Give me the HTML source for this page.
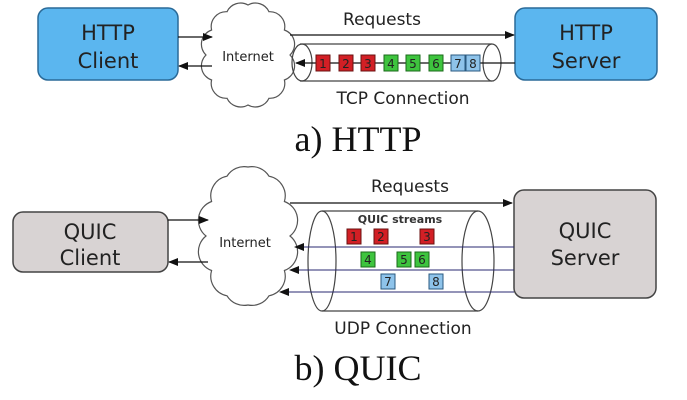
<!DOCTYPE html>
<html><head><style>
html,body{margin:0;padding:0;background:#fff;}
svg{display:block;}
.s{font-family:"DejaVu Sans","Liberation Sans",sans-serif;}
</style></head><body>
<svg width="687" height="400" viewBox="0 0 687 400" xmlns="http://www.w3.org/2000/svg">
<defs>
<marker id="a" markerWidth="10" markerHeight="8" refX="9" refY="4" orient="auto" markerUnits="userSpaceOnUse"><path d="M0,0 L10,4 L0,8 z" fill="#111"/></marker>
</defs>
<rect width="687" height="400" fill="#fff"/>
<!-- TOP -->
<rect x="38" y="8" width="140" height="72" rx="10" fill="#5bb6ef" stroke="#2a6a98" stroke-width="1.5"/>
<text x="108" y="40" class="s" font-size="21" text-anchor="middle" fill="#222">HTTP</text>
<text x="108" y="68" class="s" font-size="21" text-anchor="middle" fill="#222">Client</text>
<rect x="515" y="8" width="142" height="72" rx="10" fill="#5bb6ef" stroke="#2a6a98" stroke-width="1.5"/>
<text x="586" y="40" class="s" font-size="21" text-anchor="middle" fill="#222">HTTP</text>
<text x="586" y="68" class="s" font-size="21" text-anchor="middle" fill="#222">Server</text>
<path d="M290,55 A15,15 0 0 1 284.4,80 A15,15 0 0 1 269,98.3 A15,15 0 0 1 248,105 A15,15 0 0 1 227,98.3 A15,15 0 0 1 211.6,80 A15,15 0 0 1 206,55 A15,15 0 0 1 211.6,30 A15,15 0 0 1 227,11.7 A15,15 0 0 1 248,5 A15,15 0 0 1 269,11.7 A15,15 0 0 1 284.4,30 A15,15 0 0 1 290,55 z" fill="#fff" stroke="#555" stroke-width="1.2"/>
<line x1="178" y1="37" x2="212" y2="37" stroke="#111" stroke-width="1.2" marker-end="url(#a)"/>
<line x1="212" y1="66" x2="179" y2="66" stroke="#111" stroke-width="1.2" marker-end="url(#a)"/>
<text x="248" y="61" class="s" font-size="13" text-anchor="middle" fill="#222">Internet</text>
<text x="382" y="25" class="s" font-size="17" text-anchor="middle" fill="#222">Requests</text>
<line x1="290" y1="35" x2="514" y2="35" stroke="#111" stroke-width="1.2" marker-end="url(#a)"/>
<line x1="300" y1="44" x2="492" y2="44" stroke="#444" stroke-width="1.2"/>
<line x1="300" y1="81" x2="492" y2="81" stroke="#444" stroke-width="1.2"/>
<ellipse cx="302" cy="62.5" rx="10" ry="18.5" fill="none" stroke="#444" stroke-width="1.2"/>
<ellipse cx="492" cy="62.5" rx="9" ry="18.5" fill="#fff" stroke="#444" stroke-width="1.2"/>
<line x1="515" y1="63" x2="296" y2="63" stroke="#111" stroke-width="1.2" marker-end="url(#a)"/>
<g class="s" font-size="12" text-anchor="middle" fill="#222" stroke-width="1">
<rect x="316" y="55" width="14" height="16" fill="#d21f25" stroke="#6a1010"/><text x="323" y="68">1</text>
<rect x="339" y="55" width="14" height="16" fill="#d21f25" stroke="#6a1010"/><text x="346" y="68">2</text>
<rect x="361" y="55" width="14" height="16" fill="#d21f25" stroke="#6a1010"/><text x="368" y="68">3</text>
<rect x="384" y="55" width="14" height="16" fill="#3ec43e" stroke="#1a6a1a"/><text x="391" y="68">4</text>
<rect x="406" y="55" width="14" height="16" fill="#3ec43e" stroke="#1a6a1a"/><text x="413" y="68">5</text>
<rect x="429" y="55" width="14" height="16" fill="#3ec43e" stroke="#1a6a1a"/><text x="436" y="68">6</text>
<rect x="451" y="55" width="14" height="16" fill="#8ec3ea" stroke="#2a5a80"/><text x="458" y="68">7</text>
<rect x="466" y="55" width="14" height="16" fill="#8ec3ea" stroke="#2a5a80"/><text x="473" y="68">8</text>
</g>
<text x="403" y="104" class="s" font-size="17" text-anchor="middle" fill="#222">TCP Connection</text>
<text x="358" y="151" font-family="Liberation Serif,serif" font-size="36" text-anchor="middle" fill="#111">a) HTTP</text>
<!-- BOTTOM -->
<rect x="13" y="212" width="155" height="60" rx="10" fill="#d8d3d3" stroke="#444" stroke-width="1.5"/>
<text x="90" y="239" class="s" font-size="21" text-anchor="middle" fill="#222">QUIC</text>
<text x="90" y="265" class="s" font-size="21" text-anchor="middle" fill="#222">Client</text>
<rect x="514" y="190" width="142" height="108" rx="10" fill="#d8d3d3" stroke="#444" stroke-width="1.5"/>
<text x="585" y="238" class="s" font-size="21" text-anchor="middle" fill="#222">QUIC</text>
<text x="585" y="265" class="s" font-size="21" text-anchor="middle" fill="#222">Server</text>
<path d="M290,236 A20,20 0 0 1 284.4,270.5 A20,20 0 0 1 269,295.8 A20,20 0 0 1 248,305 A20,20 0 0 1 227,295.8 A20,20 0 0 1 211.6,270.5 A20,20 0 0 1 206,236 A20,20 0 0 1 211.6,201.5 A20,20 0 0 1 227,176.2 A20,20 0 0 1 248,167 A20,20 0 0 1 269,176.2 A20,20 0 0 1 284.4,201.5 A20,20 0 0 1 290,236 z" fill="#fff" stroke="#555" stroke-width="1.2"/>
<line x1="168" y1="220" x2="208" y2="220" stroke="#111" stroke-width="1.2" marker-end="url(#a)"/>
<line x1="208" y1="262" x2="169" y2="262" stroke="#111" stroke-width="1.2" marker-end="url(#a)"/>
<text x="245" y="247" class="s" font-size="13" text-anchor="middle" fill="#222">Internet</text>
<text x="410" y="192" class="s" font-size="17" text-anchor="middle" fill="#222">Requests</text>
<line x1="290" y1="203" x2="512" y2="203" stroke="#111" stroke-width="1.2" marker-end="url(#a)"/>
<line x1="322" y1="211" x2="478" y2="211" stroke="#444" stroke-width="1.2"/>
<line x1="322" y1="311" x2="478" y2="311" stroke="#444" stroke-width="1.2"/>
<ellipse cx="322" cy="261" rx="14" ry="50" fill="none" stroke="#444" stroke-width="1.2"/>
<ellipse cx="478" cy="261" rx="16" ry="50" fill="none" stroke="#444" stroke-width="1.2"/>
<text x="400" y="223" class="s" font-size="11" font-weight="bold" text-anchor="middle" fill="#333">QUIC streams</text>
<line x1="514" y1="247" x2="295" y2="247" stroke="#2a2a70" stroke-width="1" marker-end="url(#a)"/>
<line x1="514" y1="270" x2="290" y2="270" stroke="#2a2a70" stroke-width="1" marker-end="url(#a)"/>
<line x1="514" y1="292" x2="280" y2="292" stroke="#2a2a70" stroke-width="1" marker-end="url(#a)"/>
<g class="s" font-size="12" text-anchor="middle" fill="#222" stroke-width="1">
<rect x="347" y="229" width="14" height="15" fill="#d21f25" stroke="#6a1010"/><text x="354" y="241">1</text>
<rect x="374" y="229" width="14" height="15" fill="#d21f25" stroke="#6a1010"/><text x="381" y="241">2</text>
<rect x="420" y="229" width="14" height="15" fill="#d21f25" stroke="#6a1010"/><text x="427" y="241">3</text>
<rect x="361" y="252" width="14" height="15" fill="#3ec43e" stroke="#1a6a1a"/><text x="368" y="264">4</text>
<rect x="397" y="252" width="14" height="15" fill="#3ec43e" stroke="#1a6a1a"/><text x="404" y="264">5</text>
<rect x="415" y="252" width="14" height="15" fill="#3ec43e" stroke="#1a6a1a"/><text x="422" y="264">6</text>
<rect x="381" y="274" width="14" height="15" fill="#8ec3ea" stroke="#2a5a80"/><text x="388" y="286">7</text>
<rect x="429" y="274" width="14" height="15" fill="#8ec3ea" stroke="#2a5a80"/><text x="436" y="286">8</text>
</g>
<text x="403" y="334" class="s" font-size="17" text-anchor="middle" fill="#222">UDP Connection</text>
<text x="358" y="380" font-family="Liberation Serif,serif" font-size="36" text-anchor="middle" fill="#111">b) QUIC</text>
</svg>
</body></html>
